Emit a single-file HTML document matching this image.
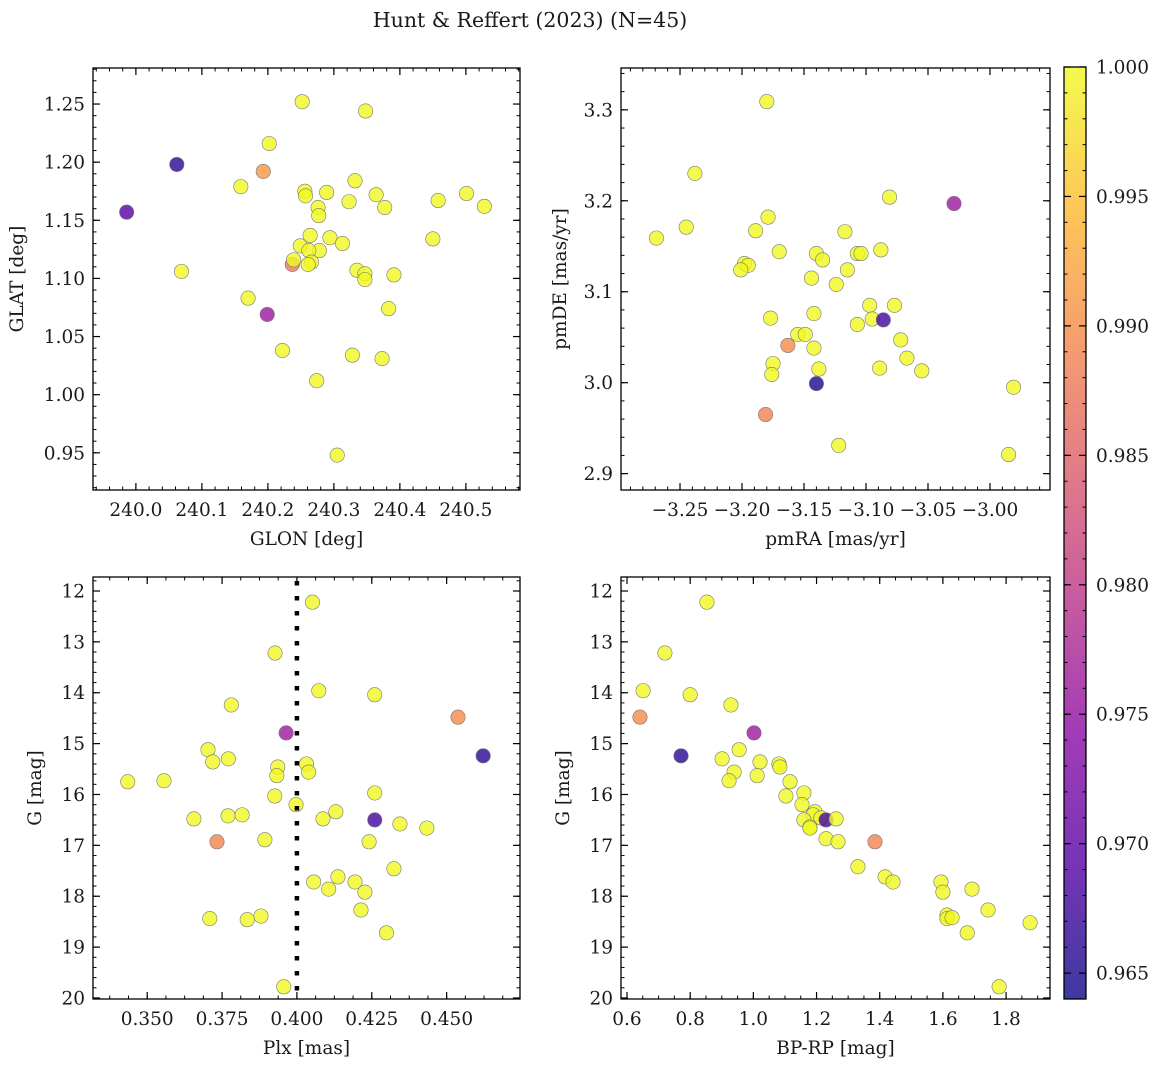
<!DOCTYPE html>
<html><head><meta charset="utf-8"><style>
html,body{margin:0;padding:0;background:#fff;}
svg text{font-family:"DejaVu Serif","Liberation Serif",serif;fill:#1a1a1a;}
</style></head><body>
<svg id="fig" width="1161" height="1067" viewBox="0 0 1161 1067" xmlns="http://www.w3.org/2000/svg">
<text x="530" y="27" font-size="20.5" text-anchor="middle">Hunt &amp; Reffert (2023) (N=45)</text>
</svg>
<script>
// ---- data ----
const tlGlon=[240.252,240.348,240.202,240.062,240.193,240.159,240.332,240.256,240.257,240.289,240.364,240.458,240.501,240.377,240.528,239.986,240.323,240.276,240.277,240.450,240.294,240.313,240.264,240.249,240.278,240.262,240.266,240.261,240.237,240.239,240.335,240.347,240.391,240.347,240.069,240.170,240.199,240.383,240.222,240.328,240.373,240.274,240.305];
const tlGlat=[1.252,1.244,1.216,1.198,1.192,1.179,1.184,1.175,1.171,1.174,1.172,1.167,1.173,1.161,1.162,1.157,1.166,1.161,1.154,1.134,1.135,1.130,1.137,1.128,1.124,1.124,1.114,1.112,1.112,1.116,1.107,1.104,1.103,1.099,1.106,1.083,1.069,1.074,1.038,1.034,1.031,1.012,0.948];
const tlProb=[1,1,1,0.966,0.991,1,1,1,1,1,1,1,1,1,1,0.969,1,1,1,1,1,1,1,1,1,1,1,1,0.988,1,1,1,1,1,1,1,0.976,1,1,1,1,1,1];
const trPmra=[-3.180,-3.238,-3.081,-3.029,-3.245,-3.269,-3.179,-3.117,-3.189,-3.088,-3.170,-3.140,-3.135,-3.198,-3.195,-3.201,-3.115,-3.144,-3.124,-3.107,-3.104,-3.077,-3.097,-3.095,-3.086,-3.107,-3.177,-3.142,-3.155,-3.149,-3.072,-3.163,-3.142,-3.067,-3.175,-3.089,-3.138,-3.055,-3.176,-3.140,-2.981,-3.181,-3.122,-2.985];
const trPmde=[3.309,3.230,3.204,3.197,3.171,3.159,3.182,3.166,3.167,3.146,3.144,3.142,3.135,3.131,3.129,3.124,3.124,3.115,3.108,3.142,3.142,3.085,3.085,3.070,3.069,3.064,3.071,3.076,3.053,3.053,3.047,3.041,3.038,3.027,3.021,3.016,3.015,3.013,3.009,2.999,2.995,2.965,2.931,2.921];
const trProb=[1,1,1,0.976,1,1,1,1,1,1,1,1,1,1,1,1,1,1,1,1,1,1,1,1,0.968,1,1,1,1,1,1,0.99,1,1,1,1,1,1,1,0.965,1,0.989,1,1];
const blPlx=[.4052,.3927,.4073,.426,.3781,.3964,.4538,.4622,.3703,.3719,.3771,.4032,.4039,.3435,.3556,.3936,.3933,.3926,.426,.3997,.4130,.3656,.3770,.3817,.4087,.426,.4344,.4434,.3893,.3733,.4241,.4324,.4056,.4137,.4194,.4106,.4227,.3709,.3880,.3834,.4214,.4299,.3956];
const blG=[12.22,13.22,13.96,14.04,14.24,14.79,14.48,15.24,15.12,15.36,15.30,15.40,15.56,15.75,15.73,15.46,15.63,16.03,15.97,16.20,16.34,16.48,16.42,16.40,16.48,16.50,16.58,16.66,16.89,16.93,16.93,17.46,17.72,17.62,17.72,17.86,17.92,18.44,18.39,18.46,18.27,18.72,19.78];
const blProb=[1,1,1,1,1,0.976,0.99,0.966,1,1,1,1,1,1,1,1,1,1,1,1,1,1,1,1,1,0.968,1,1,1,0.989,1,1,1,1,1,1,1,1,1,1,1,1,1];
const brBprp=[.853,.720,.651,.800,.929,1.002,.641,.771,.901,.955,1.021,1.081,1.084,.939,1.012,.923,1.116,1.103,1.160,1.154,1.195,1.189,1.214,1.23,1.262,1.160,1.179,1.179,1.23,1.268,1.385,1.331,1.417,1.442,1.692,1.594,1.60,1.613,1.613,1.629,1.743,1.677,1.876,1.778];
const brG=[12.22,13.22,13.96,14.04,14.24,14.79,14.48,15.24,15.30,15.12,15.36,15.40,15.46,15.56,15.63,15.73,15.75,16.03,15.97,16.20,16.34,16.40,16.46,16.50,16.48,16.50,16.64,16.66,16.87,16.93,16.93,17.42,17.62,17.72,17.86,17.72,17.92,18.37,18.44,18.42,18.27,18.72,18.52,19.78];
const brProb=[1,1,1,1,1,0.976,0.99,0.966,1,1,1,1,1,1,1,1,1,1,1,1,1,1,1,0.968,1,1,1,1,1,1,0.989,1,1,1,1,1,1,1,1,1,1,1,1,1];
const plxRef=[0.4];
const cbTicks=[0.965,0.970,0.975,0.980,0.985,0.990,0.995,1.000];

const NS='http://www.w3.org/2000/svg';
const svg=document.getElementById('fig');
const CMIN=0.964,CMAX=1.0;
const FS=18.5;
const plasma=[[13,8,135],[84,2,163],[139,10,165],[185,50,137],[219,92,104],[244,136,73],[254,188,43],[240,249,33]];
function cmap(v){let t=(v-CMIN)/(CMAX-CMIN);t=Math.max(0,Math.min(1,t));const s=t*(plasma.length-1);const i=Math.min(Math.floor(s),plasma.length-2);const f=s-i;const a=plasma[i],b=plasma[i+1];return 'rgb('+a.map((c,k)=>Math.round(c+(b[k]-c)*f)).join(',')+')';}
function mk(tag,attrs,parent){const e=document.createElementNS(NS,tag);for(const k in attrs)e.setAttribute(k,attrs[k]);(parent||svg).appendChild(e);return e;}

function panel(o){
  const g=mk('g',{});
  
  
  const sx=v=>o.x0+(v-o.xmin)/(o.xmax-o.xmin)*(o.x1-o.x0);
  const sy=o.yinv? v=>o.y0+(v-o.ymin)/(o.ymax-o.ymin)*(o.y1-o.y0) : v=>o.y1-(v-o.ymin)/(o.ymax-o.ymin)*(o.y1-o.y0);
  for(let i=0;i<o.xs.length;i++){
    const c=mk('circle',{cx:sx(o.xs[i]),cy:sy(o.ys[i]),r:7.2,fill:cmap(o.ps[i]),'fill-opacity':0.8,stroke:'#777','stroke-width':0.6},g);
    
    
  }
  if(o.vline){for(const v of o.vline){const l=mk('line',{x1:sx(v),x2:sx(v),y1:o.y0+4,y2:o.y1,stroke:'#000','stroke-width':4.5,'stroke-dasharray':'4.5 10.5'},g);
    
    }}
  const fr=mk('rect',{x:o.x0,y:o.y0,width:o.x1-o.x0,height:o.y1-o.y0,fill:'none',stroke:'#000','stroke-width':1.3},g);
  
  
  const eps=1e-9;
  for(let v=Math.ceil(o.xmin/o.xminor-eps)*o.xminor;v<=o.xmax+eps;v+=o.xminor){const X=sx(v);
    mk('line',{x1:X,x2:X,y1:o.y1,y2:o.y1-3.5,stroke:'#000','stroke-width':1},g);mk('line',{x1:X,x2:X,y1:o.y0,y2:o.y0+3.5,stroke:'#000','stroke-width':1},g);}
  for(const v of o.xticks){const X=sx(v);
    mk('line',{x1:X,x2:X,y1:o.y1,y2:o.y1-7,stroke:'#000','stroke-width':1.2},g);mk('line',{x1:X,x2:X,y1:o.y0,y2:o.y0+7,stroke:'#000','stroke-width':1.2},g);
    const t=mk('text',{x:X,y:o.y1+26,'font-size':FS,'text-anchor':'middle'},g);t.textContent=o.xfmt(v);
    
    }
  for(let v=Math.ceil(o.ymin/o.yminor-eps)*o.yminor;v<=o.ymax+eps;v+=o.yminor){const Y=sy(v);
    mk('line',{x1:o.x0,x2:o.x0+3.5,y1:Y,y2:Y,stroke:'#000','stroke-width':1},g);mk('line',{x1:o.x1,x2:o.x1-3.5,y1:Y,y2:Y,stroke:'#000','stroke-width':1},g);}
  for(const v of o.yticks){const Y=sy(v);
    mk('line',{x1:o.x0,x2:o.x0+7,y1:Y,y2:Y,stroke:'#000','stroke-width':1.2},g);mk('line',{x1:o.x1,x2:o.x1-7,y1:Y,y2:Y,stroke:'#000','stroke-width':1.2},g);
    const t=mk('text',{x:o.x0-8,y:Y+6.5,'font-size':FS,'text-anchor':'end'},g);t.textContent=o.yfmt(v);
    
    }
  const xl=mk('text',{x:(o.x0+o.x1)/2,y:o.y1+55,'font-size':FS,'text-anchor':'middle'},g);xl.textContent=o.xlabel;
  
  
  const yl=mk('text',{x:0,y:0,'font-size':FS,'text-anchor':'middle',transform:`translate(${o.ylx},${(o.y0+o.y1)/2}) rotate(-90)`},g);yl.textContent=o.ylabel;
  
  
}
const rng=(a,b,s)=>{const r=[];for(let v=a;v<=b+1e-9;v+=s)r.push(+v.toFixed(6));return r;};
const minus=s=>s.replace('-','\u2212');
panel({name:'glon-glat-panel',x0:93,x1:520,y0:68,y1:490,xmin:239.935,xmax:240.582,ymin:0.918,ymax:1.281,
  xs:tlGlon,ys:tlGlat,ps:tlProb,xticks:rng(240,240.5,0.1),yticks:rng(0.95,1.25,0.05),xminor:0.02,yminor:0.01,
  xfmt:v=>v.toFixed(1),yfmt:v=>v.toFixed(2),xlabel:'GLON [deg]',ylabel:'GLAT [deg]',ylx:23});
panel({name:'pmra-pmde-panel',x0:621,x1:1050,y0:68,y1:490,xmin:-3.2976,xmax:-2.9516,ymin:2.882,ymax:3.346,
  xs:trPmra,ys:trPmde,ps:trProb,xticks:rng(-3.25,-3.0,0.05),yticks:rng(2.9,3.3,0.1),xminor:0.01,yminor:0.02,
  xfmt:v=>minus(v.toFixed(2)),yfmt:v=>v.toFixed(1),xlabel:'pmRA [mas/yr]',ylabel:'pmDE [mas/yr]',ylx:566});
panel({name:'plx-g-panel',x0:93,x1:520,y0:577,y1:999,xmin:0.3319,xmax:0.4745,ymin:11.725,ymax:20.02,yinv:true,
  xs:blPlx,ys:blG,ps:blProb,vline:plxRef,xticks:rng(0.35,0.45,0.025),yticks:rng(12,20,1),xminor:0.00625,yminor:0.2,
  xfmt:v=>v.toFixed(3),yfmt:v=>v.toFixed(0),xlabel:'Plx [mas]',ylabel:'G [mag]',ylx:41});
panel({name:'color-magnitude-panel',x0:621,x1:1050,y0:577,y1:999,xmin:0.581,xmax:1.939,ymin:11.725,ymax:20.02,yinv:true,
  xs:brBprp,ys:brG,ps:brProb,xticks:rng(0.6,1.8,0.2),yticks:rng(12,20,1),xminor:0.05,yminor:0.2,
  xfmt:v=>v.toFixed(1),yfmt:v=>v.toFixed(0),xlabel:'BP-RP [mag]',ylabel:'G [mag]',ylx:569});

(function(){
  const g=mk('g',{});
  
  
  const x0=1064,x1=1086,y0=67,y1=999;
  const defs=mk('defs',{},g);const lg=mk('linearGradient',{id:'cbg',x1:0,y1:1,x2:0,y2:0},defs);
  plasma.forEach((c,i)=>{mk('stop',{offset:i/(plasma.length-1),'stop-color':`rgb(${c.join(',')})`,'stop-opacity':0.8},lg);});
  const r=mk('rect',{x:x0,y:y0,width:x1-x0,height:y1-y0,fill:'url(#cbg)',stroke:'#000','stroke-width':1.3},g);
  
  
  const sy=v=>y1-(v-CMIN)/(CMAX-CMIN)*(y1-y0);
  for(let v=0.964;v<=1.00001;v+=0.001){const Y=sy(v);mk('line',{x1:x1,x2:x1-3.5,y1:Y,y2:Y,stroke:'#000','stroke-width':1},g);mk('line',{x1:x0,x2:x0+3.5,y1:Y,y2:Y,stroke:'#000','stroke-width':1},g);}
  for(const v of cbTicks){const Y=sy(v);mk('line',{x1:x1,x2:x1-7,y1:Y,y2:Y,stroke:'#000','stroke-width':1.2},g);mk('line',{x1:x0,x2:x0+7,y1:Y,y2:Y,stroke:'#000','stroke-width':1.2},g);
    const t=mk('text',{x:x1+10,y:Y+6.5,'font-size':FS,},g);t.textContent=v.toFixed(3);
    
    }
})();
</script>
</body></html>
